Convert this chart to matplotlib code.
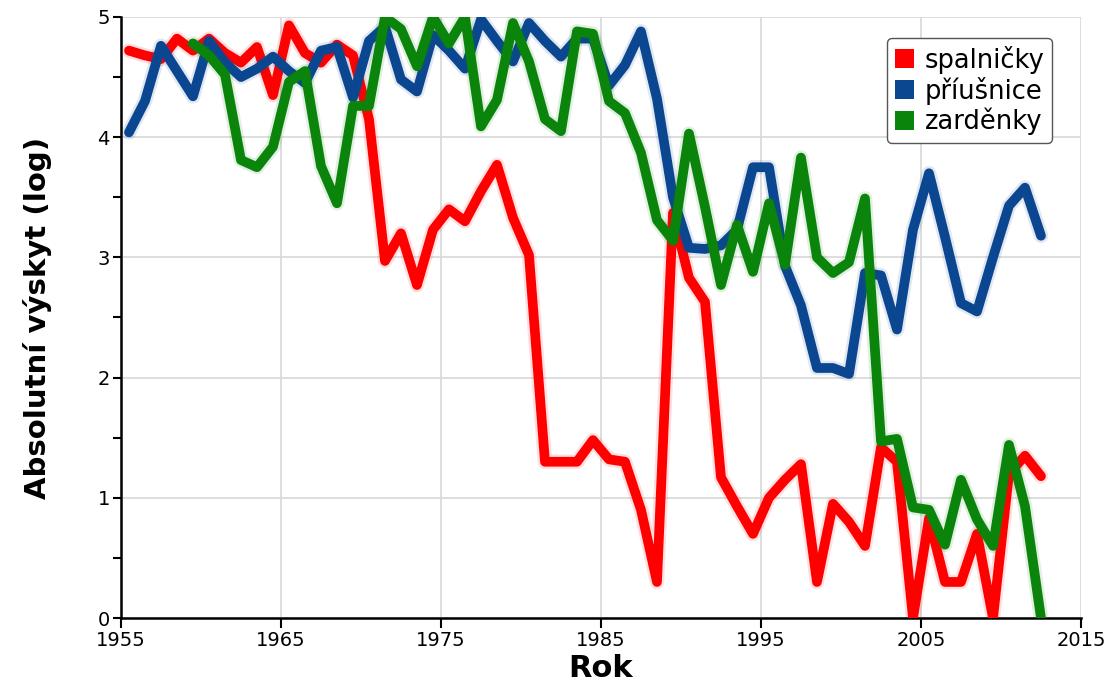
import matplotlib
matplotlib.use("Agg")
import matplotlib.pyplot as plt
import matplotlib.patheffects as pe
from matplotlib.patches import Patch
from matplotlib.ticker import MultipleLocator
import numpy as np


# %% Data
years = np.arange(1955, 2013)
years_rubella = np.arange(1959, 2013)

spalnicky = [
    4.72, 4.68, 4.65, 4.82, 4.72, 4.82, 4.70, 4.62, 4.75, 4.35,
    4.93, 4.70, 4.62, 4.77, 4.68, 4.15, 2.97, 3.20, 2.77, 3.23,
    3.40, 3.30, 3.55, 3.77, 3.33, 3.02, 1.30, 1.30, 1.30, 1.48,
    1.32, 1.30, 0.90, 0.30, 3.37, 2.83, 2.63, 1.17, 0.93, 0.70,
    1.00, 1.15, 1.28, 0.30, 0.95, 0.80, 0.60, 1.42, 1.30, 0.00,
    0.83, 0.30, 0.30, 0.70, 0.00, 1.20, 1.35, 1.18,
]
priusnice = [
    4.04, 4.30, 4.76, 4.55, 4.34, 4.80, 4.62, 4.50, 4.57, 4.67,
    4.55, 4.45, 4.72, 4.75, 4.33, 4.80, 4.92, 4.48, 4.38, 4.85,
    4.72, 4.57, 4.98, 4.80, 4.63, 4.95, 4.80, 4.67, 4.82, 4.82,
    4.43, 4.60, 4.88, 4.32, 3.50, 3.08, 3.07, 3.10, 3.23, 3.75,
    3.75, 2.93, 2.60, 2.08, 2.08, 2.03, 2.87, 2.85, 2.40, 3.23,
    3.70, 3.17, 2.62, 2.55, 3.00, 3.43, 3.58, 3.18,
]
zardenky = [
    4.78, 4.68, 4.52, 3.81, 3.75, 3.92, 4.46, 4.55, 3.76, 3.45,
    4.26, 4.26, 5.00, 4.90, 4.59, 5.00, 4.78, 5.00, 4.09, 4.31,
    4.95, 4.63, 4.15, 4.05, 4.88, 4.86, 4.30, 4.20, 3.87, 3.31,
    3.14, 4.03, 3.42, 2.77, 3.27, 2.88, 3.45, 2.94, 3.83, 3.00,
    2.87, 2.96, 3.49, 1.47, 1.49, 0.92, 0.90, 0.61, 1.15, 0.82,
    0.60, 1.44, 0.93, 0.00,
]

labels = ["spalničky", "příušnice", "zarděnky"]
colors = ["#ff0000", "#0b4690", "#0a840a"]

# %% Style
plt.rcParams.update(
    {
        "font.family": "DejaVu Sans",
        "axes.linewidth": 1.8,
        "xtick.major.width": 1.5,
        "ytick.major.width": 1.5,
        "ytick.minor.width": 1.5,
    }
)

# %% Plot
fig = plt.figure(figsize=(11.18, 6.87), dpi=100)
ax = fig.add_axes([0.1082, 0.1004, 0.8587, 0.8749])

series = [(years, spalnicky), (years, priusnice), (years_rubella, zardenky)]
for (yrs, vals), col in zip(series, colors):
    # points sit in the middle of each year
    ax.plot(
        yrs + 0.5, vals, color=col, linewidth=7,
        solid_joinstyle="round", solid_capstyle="round", zorder=3,
        path_effects=[
            pe.Stroke(linewidth=10.5, foreground=col, alpha=0.12),
            pe.Normal(),
        ],
    )

ax.set_xlim(1955, 2015)
ax.set_ylim(0, 5)
ax.set_xticks(np.arange(1955, 2016, 10))
ax.set_yticks(np.arange(0, 6, 1))
ax.yaxis.set_minor_locator(MultipleLocator(0.5))
ax.tick_params(axis="both", labelsize=14, length=6, direction="out", pad=2)
ax.tick_params(axis="y", which="minor", length=6)
ax.tick_params(axis="x", which="both", length=7)

ax.grid(True, color="#d8d8d8", linewidth=1.2, zorder=0)
ax.spines["top"].set_visible(False)
ax.spines["right"].set_visible(False)
ax.set_axisbelow(True)

ax.set_xlabel("Rok", fontsize=22, fontweight="bold", labelpad=3)
ax.set_ylabel("Absolutní výskyt (log)", fontsize=21, fontweight="bold", labelpad=33)

handles = [Patch(facecolor=c, edgecolor="none", label=l) for c, l in zip(colors, labels)]
leg = ax.legend(
    handles=handles, loc="upper right", bbox_to_anchor=(0.970, 0.965),
    fontsize=18.5, handlelength=0.75, handleheight=0.75, handletextpad=0.4,
    labelspacing=0.12, borderpad=0.3, borderaxespad=0, fancybox=True,
    framealpha=1, edgecolor="#555555",
)
leg.get_frame().set_linewidth(1.0)

fig.savefig("out.png", dpi=100)
